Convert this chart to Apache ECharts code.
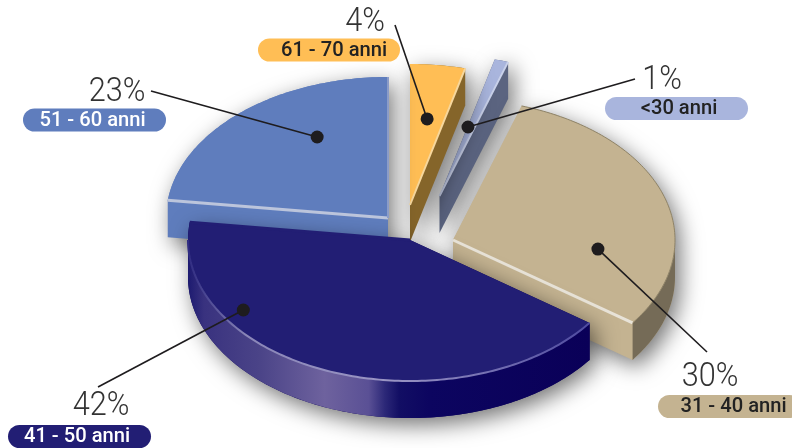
<!DOCTYPE html>
<html>
<head>
<meta charset="utf-8">
<style>html,body{margin:0;padding:0;background:#fff}#c{width:792px;height:448px}</style>
<script src="https://cdn.jsdelivr.net/npm/echarts@6/dist/echarts.min.js"></script>
</head>
<body>
<div id="c"></div>
<script>
// Data
const categories = ['<30 anni', '31 - 40 anni', '41 - 50 anni', '51 - 60 anni', '61 - 70 anni'];
const shares = [1, 30, 42, 23, 4];

// Colours, one per category
const topColors = ['#A9B5DD', '#C4B391', '#221E74', '#5F7DBD', '#FFBE55'];
const faceColors = ['#5B6480', '#C4B391', '#0A0058', '#5F7DBD', '#85652A'];
const rimColors = ['#C9D1EA', '#E8E3D8', '#221E74', '#BCC5DC', '#F7D79C'];
const pillTextColors = ['#222222', '#222222', '#FFFFFF', '#FFFFFF', '#222222'];

// Layout, one per category
const explodeX = [29.5, 43, 0, -22, 0];
const explodeY = [-44, 0, 0, -22, -35];
const paintOrder = [1, 4, 5, 3, 2]; // 61-70 and <30 are at the back, 41-50 in front
const dotAlong = [0.08, 0.719, 0.731, 0.649, 0.5]; // share of the slice's sweep
const dotRadius = [0.506, 0.656, 0.9, 0.657, 0.615]; // share of the radius
const lineEndX = [635, 707, 98, 151, 395];
const lineEndY = [79, 352, 387, 91, 25];
const percentX = [662, 710, 101, 117, 365];
const percentY = [81, 378, 407, 93, 23];
const pillX = [605, 658, 8, 23, 258];
const pillY = [97, 395, 425, 108.5, 38.5];
const pillW = [143, 143, 143, 143, 142];
const pillTextX = [679, 733.5, 77, 92.5, 334];

const CX = 410, CY = 240, RX = 222, RY = 141, DEPTH = 37;
const START_ANGLE = 284.4; // where the first category begins, clockwise on screen
const FONT = 'Roboto, "Liberation Sans", sans-serif';
const PILL_H = 23;

const total = shares.reduce((a, b) => a + b, 0);

function rad(d) { return d * Math.PI / 180; }
function polar(cx, cy, deg, f) {
  return [cx + RX * f * Math.cos(rad(deg)), cy + RY * f * Math.sin(rad(deg))];
}
function arc(cx, cy, a0, a1) {
  const pts = [];
  const n = Math.max(2, Math.ceil(Math.abs(a1 - a0)));
  for (let i = 0; i <= n; i++) pts.push(polar(cx, cy, a0 + (a1 - a0) * i / n, 1));
  return pts;
}
function hull(points) {
  const p = points.slice().sort((a, b) => a[0] - b[0] || a[1] - b[1]);
  const cross = (o, a, b) => (a[0] - o[0]) * (b[1] - o[1]) - (a[1] - o[1]) * (b[0] - o[0]);
  const lo = [], up = [];
  for (const q of p) {
    while (lo.length > 1 && cross(lo[lo.length - 2], lo[lo.length - 1], q) <= 0) lo.pop();
    lo.push(q);
  }
  for (const q of p.slice().reverse()) {
    while (up.length > 1 && cross(up[up.length - 2], up[up.length - 1], q) <= 0) up.pop();
    up.push(q);
  }
  return lo.slice(0, -1).concat(up.slice(0, -1));
}
const down = pts => pts.map(p => [p[0], p[1] + DEPTH]);

function sliceAngles(i) {
  let before = 0;
  for (let k = 0; k < i; k++) before += shares[k];
  return [START_ANGLE + before / total * 360, START_ANGLE + (before + shares[i]) / total * 360];
}

function renderSlice(params, api) {
  const i = params.dataIndex;
  const [a0, a1] = sliceAngles(i);
  const ax = CX + explodeX[i], ay = CY + explodeY[i];
  const rim = arc(ax, ay, a0, a1);
  const top = [[ax, ay]].concat(rim);
  const z = paintOrder[i] * 10;
  const kids = [];

  // body of the slice, casting the soft shadow
  kids.push({
    type: 'polygon', z2: z,
    shape: { points: hull(top.concat(down(top))) },
    style: {
      fill: faceColors[i], shadowBlur: 22, shadowColor: 'rgba(0,0,0,0.55)',
      shadowOffsetX: 5, shadowOffsetY: 7
    }
  });

  // outer wall, the part of the rim that faces the viewer
  const ranges = [[a0, a1], [a0 - 360, a1 - 360]];
  for (const [s, e] of ranges) {
    const w0 = Math.max(s, 0), w1 = Math.min(e, 180);
    if (w1 > w0) {
      const wall = arc(ax, ay, w0, w1);
      const isNavy = categories[i] === '41 - 50 anni';
      const fill = isNavy
        ? new echarts.graphic.LinearGradient(0, 0, 1, 0, [
            { offset: 0, color: '#1D1A70' }, { offset: 0.04, color: '#39327F' },
            { offset: 0.18, color: '#4B4488' }, { offset: 0.34, color: '#6E629E' },
            { offset: 0.45, color: '#5A5095' }, { offset: 0.49, color: '#2C2878' },
            { offset: 0.526, color: '#120E64' }, { offset: 0.6, color: '#0C0560' },
            { offset: 1, color: '#0A0058' }
          ])
        : '#756B57';
      kids.push({
        type: 'polygon', z2: z + 1,
        shape: { points: wall.concat(down(wall).reverse()) },
        style: { fill: fill }
      });
    }
  }

  // top surface
  kids.push({ type: 'polygon', z2: z + 2, shape: { points: top }, style: { fill: topColors[i] } });

  // bevel highlights
  const isBack = shares[i] < 10;
  const frontEdge = categories[i] === '51 - 60 anni' ? rim[0] : rim[rim.length - 1];
  kids.push({
    type: 'polyline', z2: z + 3,
    shape: { points: [[ax, ay], frontEdge] },
    style: { stroke: rimColors[i], lineWidth: isBack ? 2 : 3, fill: 'none' }
  });
  if (categories[i] === '41 - 50 anni') {
    kids.push({
      type: 'polyline', z2: z + 3,
      shape: { points: arc(ax, ay, 36, 180) },
      style: {
        fill: 'none', lineWidth: 2,
        stroke: new echarts.graphic.LinearGradient(0, 0, 1, 0, [
          { offset: 0, color: '#2C2880' }, { offset: 0.15, color: '#8A86B8' },
          { offset: 0.5, color: '#9A95C4' }, { offset: 1, color: '#4E4AA0' }
        ])
      }
    });
  }
  if (categories[i] === '31 - 40 anni') {
    kids.push({
      type: 'polyline', z2: z + 3,
      shape: { points: arc(ax, ay, a0, a1) },
      style: { fill: 'none', lineWidth: 1, stroke: '#8E8368' }
    });
  }
  if (categories[i] === '51 - 60 anni') {
    kids.push({
      type: 'polyline', z2: z + 3,
      shape: { points: [[ax, ay], rim[rim.length - 1]] },
      style: { fill: 'none', lineWidth: 2, stroke: '#8B9CC8' }
    });
  }

  // callout: leader line, dot, percent, pill
  const dot = polar(ax, ay, a0 + (a1 - a0) * dotAlong[i], dotRadius[i]);
  kids.push({
    type: 'line', z2: 900,
    shape: { x1: dot[0], y1: dot[1], x2: lineEndX[i], y2: lineEndY[i] },
    style: { stroke: '#1E1C1E', lineWidth: 1.6 }
  });
  kids.push({
    type: 'circle', z2: 901,
    shape: { cx: dot[0], cy: dot[1], r: 6.5 },
    style: { fill: '#1E1C1E' }
  });
  kids.push({
    type: 'text', z2: 902, x: percentX[i], y: percentY[i], scaleX: 0.93,
    style: {
      text: api.value(0) + '%', fontFamily: FONT, fontSize: 33, fontWeight: 300, fill: '#333333',
      align: 'center', verticalAlign: 'middle'
    }
  });
  kids.push({
    type: 'rect', z2: 903,
    shape: { x: pillX[i], y: pillY[i], width: pillW[i], height: PILL_H, r: 11.5 },
    style: { fill: topColors[i] }
  });
  kids.push({
    type: 'text', z2: 904, x: pillTextX[i], y: pillY[i] + PILL_H / 2 + 0.5, scaleX: 0.96,
    style: {
      text: categories[i], fontFamily: FONT, fontSize: 21, fontWeight: 500,
      fill: pillTextColors[i], align: 'center', verticalAlign: 'middle'
    }
  });
  return { type: 'group', children: kids };
}

const chart = echarts.init(document.getElementById('c'), null, { renderer: 'canvas' });
chart.setOption({
  animation: false,
  backgroundColor: '#ffffff',
  series: [{
    type: 'custom',
    coordinateSystem: 'none',
    silent: true,
    renderItem: renderSlice,
    data: shares.map(v => [v])
  }]
});
</script>
</body>
</html>
